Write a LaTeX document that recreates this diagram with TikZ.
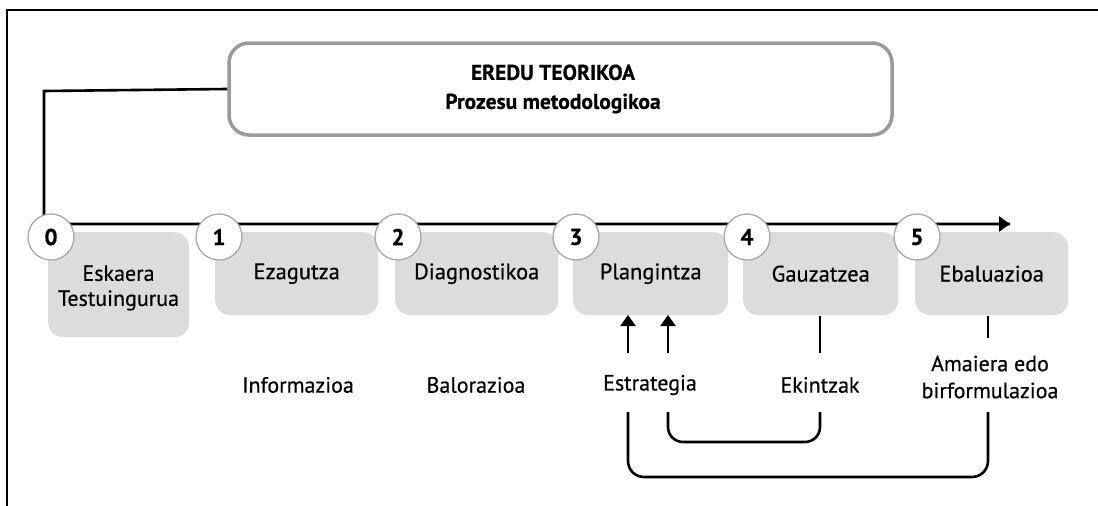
\documentclass[tikz,border=0pt]{standalone}
\usepackage{fontspec}
\setmainfont{PT Sans}[FakeBold=0.5]
\usetikzlibrary{arrows.meta}
\definecolor{boxgray}{HTML}{DCDCDC}
\definecolor{rimgray}{HTML}{9A9A9A}
\definecolor{circgray}{HTML}{A8A8A8}
\begin{document}
\begin{tikzpicture}[x=1pt,y=-1pt,
  stage/.style={fill=boxgray, rounded corners=15pt, minimum height=83pt, inner sep=0pt, font=\fontsize{22.5}{25}\selectfont, align=center},
  num/.style={circle, draw=circgray, line width=1.3pt, fill=white, minimum size=46pt, inner sep=0pt, font=\bfseries\fontsize{23}{25}\selectfont},
  lbl/.style={font=\fontsize{22}{25}\selectfont, align=center, inner sep=1pt},
  conn/.style={line width=2.6pt, black},
  arr/.style={conn, -{Triangle[length=11pt,width=15pt]}}
]
\useasboundingbox (0,0) rectangle (1098,506);
\fill[white] (0,0) rectangle (1098,506);
% frame
\draw[line width=2.8pt] (7,506) -- (7,10) -- (1098,10);
% top box
\node[draw=rimgray, line width=3.5pt, rounded corners=20pt, minimum width=663pt, minimum height=92pt] (title) at (560.5,89) {};
\node[font=\bfseries\fontsize{21.5}{29}\selectfont, align=center] (titletext) at (553,89) {EREDU TEORIKOA\\Prozesu metodologikoa};
% stage boxes
\node[stage, minimum width=141pt, minimum height=105pt, anchor=north west] (b0) at (48,232) {};
\node[font=\fontsize{22}{25}\selectfont, align=center] (t0) at (118.5,288) {Eskaera\\Testuingurua};
\node[stage, minimum width=163pt, anchor=north west] (b1) at (215,232) {Ezagutza};
\node[stage, minimum width=163pt, anchor=north west] (b2) at (395,232) {Diagnostikoa};
\node[stage, minimum width=155pt, anchor=north west] (b3) at (573,232) {Plangintza};
\node[stage, minimum width=155pt, anchor=north west] (b4) at (743,232) {Gauzatzea};
\node[stage, minimum width=153pt, anchor=north west] (b5) at (915,232) {Ebaluazioa};
% main line
\coordinate (linestart) at (44,224);
\coordinate (lineend) at (1010,224);
\draw[conn] (title.west) -- (44,91) -- (linestart) -- (lineend);
\draw[arr] (950,224) -- (lineend);
% circles
\node[num] (c0) at (51,237) {0};
\node[num] (c1) at (219,237) {1};
\node[num] (c2) at (398,237) {2};
\node[num] (c3) at (576,237) {3};
\node[num] (c4) at (747,237) {4};
\node[num] (c5) at (917,237) {5};
% lower labels
\node[lbl] (l1) at (298,385) {Informazioa};
\node[lbl] (l2) at (476,385) {Balorazioa};
\node[lbl] (l3) at (650,385) {Estrategia};
\node[lbl] (l4) at (820,385) {Ekintzak};
\node[lbl, font=\fontsize{22}{27}\selectfont] (l5) at (990,377) {Amaiera edo\\birformulazioa};
% connectors
\coordinate (a1) at (628,353);
\coordinate (a2) at (668,353);
\draw[arr] (a1) -- (628,315);
\draw[arr] (a2) -- (668,315);
\draw[conn] (820,316) -- (820,353);
\draw[conn] (988,316) -- (988,338);
\draw[conn, rounded corners=15pt] (668,412) -- (668,442) -- (820,442) -- (820,412);
\draw[conn, rounded corners=16pt] (628,412) -- (628,477) -- (988,477) -- (988,412);
\end{tikzpicture}
\end{document}
